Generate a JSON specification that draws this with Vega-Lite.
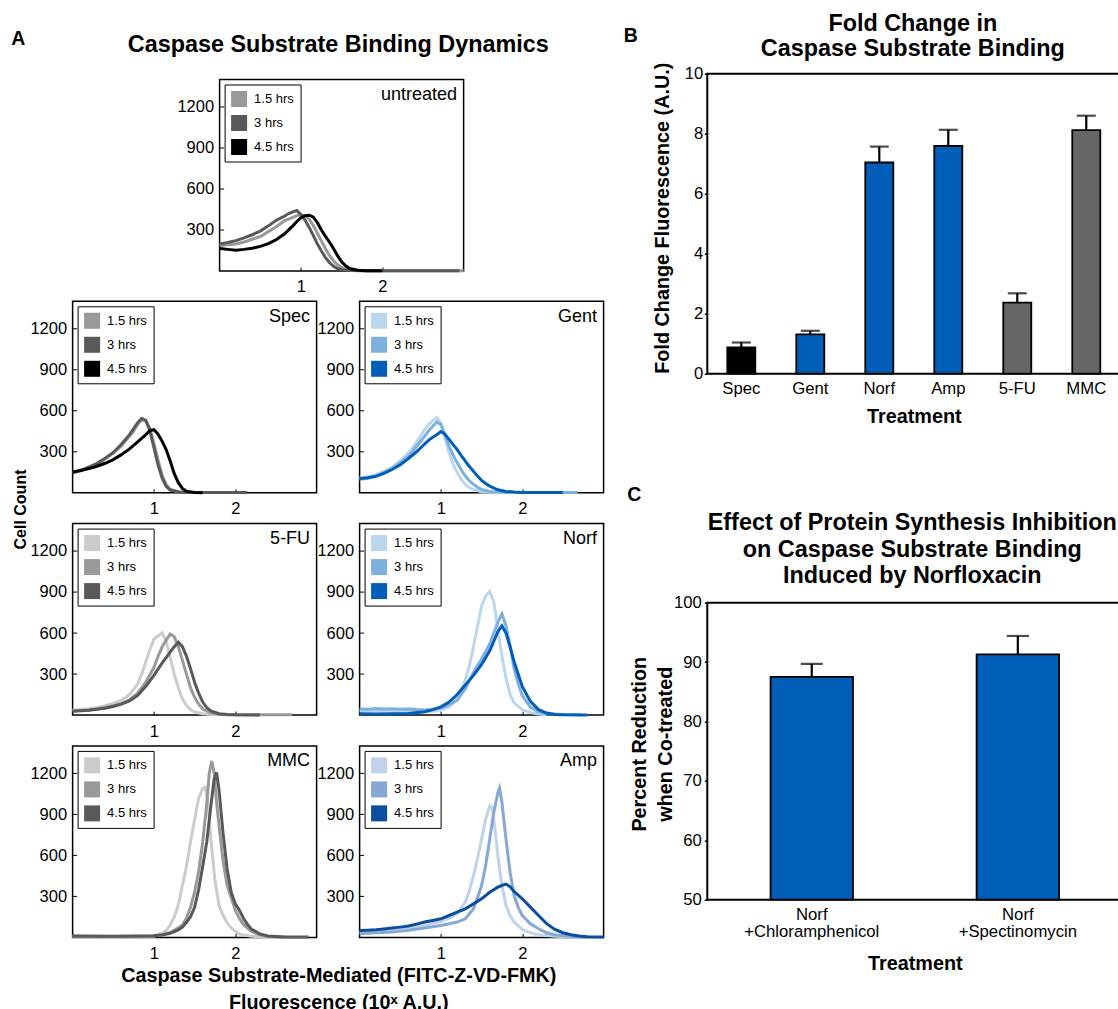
{
"$schema":"https://vega.github.io/schema/vega-lite/v6.json",
"autosize":{"type":"pad"},
"padding":{"left":10.6,"top":10.7,"right":0,"bottom":0},
"background":"white",
"config":{"font":"Liberation Sans","view":{"stroke":"black","strokeWidth":1.5},"axis":{"labelColor":"black","titleColor":"black","tickColor":"black"},"text":{"color":"black"},"legend":{"labelColor":"black"}},
"datasets":{
"U":[
{"t":"1.5 hrs","x":0,"y":185},{"t":"1.5 hrs","x":0.1,"y":192},{"t":"1.5 hrs","x":0.2,"y":198},{"t":"1.5 hrs","x":0.3,"y":212},{"t":"1.5 hrs","x":0.4,"y":232},{"t":"1.5 hrs","x":0.5,"y":252},{"t":"1.5 hrs","x":0.6,"y":288},{"t":"1.5 hrs","x":0.7,"y":325},{"t":"1.5 hrs","x":0.8,"y":368},{"t":"1.5 hrs","x":0.9,"y":392},{"t":"1.5 hrs","x":0.95,"y":405},{"t":"1.5 hrs","x":1,"y":412},{"t":"1.5 hrs","x":1.05,"y":402},{"t":"1.5 hrs","x":1.1,"y":380},{"t":"1.5 hrs","x":1.15,"y":335},{"t":"1.5 hrs","x":1.2,"y":280},{"t":"1.5 hrs","x":1.25,"y":222},{"t":"1.5 hrs","x":1.3,"y":165},{"t":"1.5 hrs","x":1.35,"y":115},{"t":"1.5 hrs","x":1.4,"y":75},{"t":"1.5 hrs","x":1.45,"y":45},{"t":"1.5 hrs","x":1.5,"y":25},{"t":"1.5 hrs","x":1.6,"y":9},{"t":"1.5 hrs","x":1.7,"y":4},{"t":"1.5 hrs","x":1.8,"y":2},{"t":"1.5 hrs","x":2.2,"y":2},{"t":"1.5 hrs","x":2.6,"y":2},{"t":"1.5 hrs","x":3,"y":2},
{"t":"3 hrs","x":0,"y":198},{"t":"3 hrs","x":0.1,"y":208},{"t":"3 hrs","x":0.2,"y":222},{"t":"3 hrs","x":0.3,"y":242},{"t":"3 hrs","x":0.4,"y":265},{"t":"3 hrs","x":0.5,"y":292},{"t":"3 hrs","x":0.6,"y":330},{"t":"3 hrs","x":0.7,"y":372},{"t":"3 hrs","x":0.8,"y":402},{"t":"3 hrs","x":0.85,"y":420},{"t":"3 hrs","x":0.9,"y":432},{"t":"3 hrs","x":0.95,"y":442},{"t":"3 hrs","x":1,"y":412},{"t":"3 hrs","x":1.05,"y":372},{"t":"3 hrs","x":1.1,"y":320},{"t":"3 hrs","x":1.15,"y":262},{"t":"3 hrs","x":1.2,"y":200},{"t":"3 hrs","x":1.25,"y":148},{"t":"3 hrs","x":1.3,"y":100},{"t":"3 hrs","x":1.35,"y":62},{"t":"3 hrs","x":1.4,"y":35},{"t":"3 hrs","x":1.45,"y":18},{"t":"3 hrs","x":1.5,"y":9},{"t":"3 hrs","x":1.6,"y":4},{"t":"3 hrs","x":1.8,"y":2},{"t":"3 hrs","x":2.2,"y":2},{"t":"3 hrs","x":2.6,"y":2},{"t":"3 hrs","x":2.95,"y":2},
{"t":"4.5 hrs","x":0,"y":165},{"t":"4.5 hrs","x":0.1,"y":158},{"t":"4.5 hrs","x":0.2,"y":152},{"t":"4.5 hrs","x":0.3,"y":158},{"t":"4.5 hrs","x":0.4,"y":166},{"t":"4.5 hrs","x":0.5,"y":180},{"t":"4.5 hrs","x":0.6,"y":200},{"t":"4.5 hrs","x":0.7,"y":230},{"t":"4.5 hrs","x":0.8,"y":272},{"t":"4.5 hrs","x":0.9,"y":330},{"t":"4.5 hrs","x":0.95,"y":362},{"t":"4.5 hrs","x":1,"y":390},{"t":"4.5 hrs","x":1.05,"y":405},{"t":"4.5 hrs","x":1.1,"y":408},{"t":"4.5 hrs","x":1.15,"y":395},{"t":"4.5 hrs","x":1.2,"y":355},{"t":"4.5 hrs","x":1.25,"y":302},{"t":"4.5 hrs","x":1.3,"y":255},{"t":"4.5 hrs","x":1.35,"y":212},{"t":"4.5 hrs","x":1.4,"y":165},{"t":"4.5 hrs","x":1.45,"y":112},{"t":"4.5 hrs","x":1.5,"y":68},{"t":"4.5 hrs","x":1.55,"y":38},{"t":"4.5 hrs","x":1.6,"y":18},{"t":"4.5 hrs","x":1.7,"y":6},{"t":"4.5 hrs","x":1.8,"y":2},{"t":"4.5 hrs","x":2,"y":1}
],
"S":[
{"t":"1.5 hrs","x":0,"y":150},{"t":"1.5 hrs","x":0.1,"y":160},{"t":"1.5 hrs","x":0.2,"y":185},{"t":"1.5 hrs","x":0.3,"y":210},{"t":"1.5 hrs","x":0.4,"y":248},{"t":"1.5 hrs","x":0.5,"y":290},{"t":"1.5 hrs","x":0.6,"y":345},{"t":"1.5 hrs","x":0.7,"y":415},{"t":"1.5 hrs","x":0.75,"y":450},{"t":"1.5 hrs","x":0.8,"y":500},{"t":"1.5 hrs","x":0.85,"y":535},{"t":"1.5 hrs","x":0.9,"y":525},{"t":"1.5 hrs","x":0.95,"y":470},{"t":"1.5 hrs","x":1,"y":360},{"t":"1.5 hrs","x":1.05,"y":240},{"t":"1.5 hrs","x":1.1,"y":130},{"t":"1.5 hrs","x":1.15,"y":60},{"t":"1.5 hrs","x":1.2,"y":25},{"t":"1.5 hrs","x":1.3,"y":8},{"t":"1.5 hrs","x":1.4,"y":3},{"t":"1.5 hrs","x":1.6,"y":2},{"t":"1.5 hrs","x":2.1,"y":2},
{"t":"3 hrs","x":0,"y":145},{"t":"3 hrs","x":0.1,"y":165},{"t":"3 hrs","x":0.2,"y":188},{"t":"3 hrs","x":0.3,"y":215},{"t":"3 hrs","x":0.4,"y":252},{"t":"3 hrs","x":0.5,"y":295},{"t":"3 hrs","x":0.6,"y":355},{"t":"3 hrs","x":0.7,"y":425},{"t":"3 hrs","x":0.75,"y":470},{"t":"3 hrs","x":0.8,"y":512},{"t":"3 hrs","x":0.85,"y":545},{"t":"3 hrs","x":0.9,"y":530},{"t":"3 hrs","x":0.95,"y":455},{"t":"3 hrs","x":1,"y":330},{"t":"3 hrs","x":1.05,"y":205},{"t":"3 hrs","x":1.1,"y":108},{"t":"3 hrs","x":1.15,"y":48},{"t":"3 hrs","x":1.2,"y":20},{"t":"3 hrs","x":1.3,"y":6},{"t":"3 hrs","x":1.4,"y":3},{"t":"3 hrs","x":1.6,"y":2},{"t":"3 hrs","x":2.15,"y":2},
{"t":"4.5 hrs","x":0,"y":153},{"t":"4.5 hrs","x":0.1,"y":163},{"t":"4.5 hrs","x":0.2,"y":177},{"t":"4.5 hrs","x":0.3,"y":194},{"t":"4.5 hrs","x":0.4,"y":216},{"t":"4.5 hrs","x":0.5,"y":243},{"t":"4.5 hrs","x":0.6,"y":279},{"t":"4.5 hrs","x":0.7,"y":321},{"t":"4.5 hrs","x":0.8,"y":372},{"t":"4.5 hrs","x":0.9,"y":425},{"t":"4.5 hrs","x":0.95,"y":454},{"t":"4.5 hrs","x":1,"y":462},{"t":"4.5 hrs","x":1.05,"y":428},{"t":"4.5 hrs","x":1.1,"y":378},{"t":"4.5 hrs","x":1.15,"y":316},{"t":"4.5 hrs","x":1.2,"y":232},{"t":"4.5 hrs","x":1.25,"y":140},{"t":"4.5 hrs","x":1.3,"y":74},{"t":"4.5 hrs","x":1.35,"y":32},{"t":"4.5 hrs","x":1.4,"y":12},{"t":"4.5 hrs","x":1.5,"y":3},{"t":"4.5 hrs","x":1.6,"y":1}
],
"G":[
{"t":"1.5 hrs","x":0,"y":108},{"t":"1.5 hrs","x":0.1,"y":118},{"t":"1.5 hrs","x":0.2,"y":132},{"t":"1.5 hrs","x":0.3,"y":158},{"t":"1.5 hrs","x":0.4,"y":188},{"t":"1.5 hrs","x":0.5,"y":235},{"t":"1.5 hrs","x":0.6,"y":292},{"t":"1.5 hrs","x":0.7,"y":370},{"t":"1.5 hrs","x":0.8,"y":462},{"t":"1.5 hrs","x":0.85,"y":500},{"t":"1.5 hrs","x":0.9,"y":528},{"t":"1.5 hrs","x":0.95,"y":552},{"t":"1.5 hrs","x":1,"y":512},{"t":"1.5 hrs","x":1.05,"y":400},{"t":"1.5 hrs","x":1.1,"y":292},{"t":"1.5 hrs","x":1.15,"y":210},{"t":"1.5 hrs","x":1.2,"y":146},{"t":"1.5 hrs","x":1.25,"y":98},{"t":"1.5 hrs","x":1.3,"y":61},{"t":"1.5 hrs","x":1.35,"y":38},{"t":"1.5 hrs","x":1.4,"y":24},{"t":"1.5 hrs","x":1.5,"y":8},{"t":"1.5 hrs","x":1.6,"y":4},{"t":"1.5 hrs","x":1.8,"y":2},{"t":"1.5 hrs","x":2.45,"y":2},
{"t":"3 hrs","x":0,"y":98},{"t":"3 hrs","x":0.1,"y":106},{"t":"3 hrs","x":0.2,"y":120},{"t":"3 hrs","x":0.3,"y":148},{"t":"3 hrs","x":0.4,"y":177},{"t":"3 hrs","x":0.5,"y":220},{"t":"3 hrs","x":0.6,"y":267},{"t":"3 hrs","x":0.7,"y":340},{"t":"3 hrs","x":0.8,"y":413},{"t":"3 hrs","x":0.85,"y":455},{"t":"3 hrs","x":0.9,"y":486},{"t":"3 hrs","x":0.95,"y":518},{"t":"3 hrs","x":1,"y":498},{"t":"3 hrs","x":1.05,"y":425},{"t":"3 hrs","x":1.1,"y":340},{"t":"3 hrs","x":1.15,"y":275},{"t":"3 hrs","x":1.2,"y":219},{"t":"3 hrs","x":1.25,"y":168},{"t":"3 hrs","x":1.3,"y":122},{"t":"3 hrs","x":1.35,"y":88},{"t":"3 hrs","x":1.4,"y":61},{"t":"3 hrs","x":1.45,"y":40},{"t":"3 hrs","x":1.5,"y":24},{"t":"3 hrs","x":1.6,"y":10},{"t":"3 hrs","x":1.7,"y":5},{"t":"3 hrs","x":1.8,"y":3},{"t":"3 hrs","x":2.68,"y":2},
{"t":"4.5 hrs","x":0,"y":104},{"t":"4.5 hrs","x":0.1,"y":110},{"t":"4.5 hrs","x":0.2,"y":121},{"t":"4.5 hrs","x":0.3,"y":142},{"t":"4.5 hrs","x":0.4,"y":170},{"t":"4.5 hrs","x":0.5,"y":205},{"t":"4.5 hrs","x":0.6,"y":250},{"t":"4.5 hrs","x":0.7,"y":300},{"t":"4.5 hrs","x":0.8,"y":357},{"t":"4.5 hrs","x":0.85,"y":385},{"t":"4.5 hrs","x":0.9,"y":406},{"t":"4.5 hrs","x":0.95,"y":425},{"t":"4.5 hrs","x":1,"y":448},{"t":"4.5 hrs","x":1.05,"y":428},{"t":"4.5 hrs","x":1.1,"y":390},{"t":"4.5 hrs","x":1.15,"y":352},{"t":"4.5 hrs","x":1.2,"y":316},{"t":"4.5 hrs","x":1.25,"y":272},{"t":"4.5 hrs","x":1.3,"y":231},{"t":"4.5 hrs","x":1.35,"y":192},{"t":"4.5 hrs","x":1.4,"y":158},{"t":"4.5 hrs","x":1.45,"y":122},{"t":"4.5 hrs","x":1.5,"y":90},{"t":"4.5 hrs","x":1.55,"y":68},{"t":"4.5 hrs","x":1.6,"y":49},{"t":"4.5 hrs","x":1.7,"y":22},{"t":"4.5 hrs","x":1.8,"y":10},{"t":"4.5 hrs","x":1.9,"y":5},{"t":"4.5 hrs","x":2,"y":3},{"t":"4.5 hrs","x":2.5,"y":2}
],
"F":[
{"t":"1.5 hrs","x":0,"y":38},{"t":"1.5 hrs","x":0.1,"y":41},{"t":"1.5 hrs","x":0.2,"y":46},{"t":"1.5 hrs","x":0.3,"y":55},{"t":"1.5 hrs","x":0.4,"y":68},{"t":"1.5 hrs","x":0.5,"y":86},{"t":"1.5 hrs","x":0.6,"y":110},{"t":"1.5 hrs","x":0.7,"y":150},{"t":"1.5 hrs","x":0.8,"y":228},{"t":"1.5 hrs","x":0.85,"y":300},{"t":"1.5 hrs","x":0.9,"y":390},{"t":"1.5 hrs","x":0.95,"y":478},{"t":"1.5 hrs","x":1,"y":555},{"t":"1.5 hrs","x":1.05,"y":578},{"t":"1.5 hrs","x":1.1,"y":602},{"t":"1.5 hrs","x":1.15,"y":540},{"t":"1.5 hrs","x":1.2,"y":420},{"t":"1.5 hrs","x":1.25,"y":300},{"t":"1.5 hrs","x":1.3,"y":198},{"t":"1.5 hrs","x":1.35,"y":120},{"t":"1.5 hrs","x":1.4,"y":70},{"t":"1.5 hrs","x":1.45,"y":40},{"t":"1.5 hrs","x":1.5,"y":22},{"t":"1.5 hrs","x":1.6,"y":10},{"t":"1.5 hrs","x":1.7,"y":5},{"t":"1.5 hrs","x":1.8,"y":3},
{"t":"3 hrs","x":0,"y":30},{"t":"3 hrs","x":0.1,"y":33},{"t":"3 hrs","x":0.2,"y":38},{"t":"3 hrs","x":0.3,"y":45},{"t":"3 hrs","x":0.4,"y":55},{"t":"3 hrs","x":0.5,"y":68},{"t":"3 hrs","x":0.6,"y":86},{"t":"3 hrs","x":0.7,"y":112},{"t":"3 hrs","x":0.8,"y":160},{"t":"3 hrs","x":0.9,"y":240},{"t":"3 hrs","x":1,"y":348},{"t":"3 hrs","x":1.05,"y":428},{"t":"3 hrs","x":1.1,"y":498},{"t":"3 hrs","x":1.15,"y":548},{"t":"3 hrs","x":1.2,"y":592},{"t":"3 hrs","x":1.25,"y":572},{"t":"3 hrs","x":1.3,"y":500},{"t":"3 hrs","x":1.35,"y":400},{"t":"3 hrs","x":1.4,"y":300},{"t":"3 hrs","x":1.45,"y":200},{"t":"3 hrs","x":1.5,"y":130},{"t":"3 hrs","x":1.55,"y":80},{"t":"3 hrs","x":1.6,"y":45},{"t":"3 hrs","x":1.7,"y":16},{"t":"3 hrs","x":1.8,"y":6},{"t":"3 hrs","x":1.9,"y":3},{"t":"3 hrs","x":2.7,"y":2},
{"t":"4.5 hrs","x":0,"y":28},{"t":"4.5 hrs","x":0.1,"y":31},{"t":"4.5 hrs","x":0.2,"y":35},{"t":"4.5 hrs","x":0.3,"y":42},{"t":"4.5 hrs","x":0.4,"y":50},{"t":"4.5 hrs","x":0.5,"y":63},{"t":"4.5 hrs","x":0.6,"y":80},{"t":"4.5 hrs","x":0.7,"y":104},{"t":"4.5 hrs","x":0.8,"y":145},{"t":"4.5 hrs","x":0.9,"y":210},{"t":"4.5 hrs","x":1,"y":290},{"t":"4.5 hrs","x":1.1,"y":380},{"t":"4.5 hrs","x":1.2,"y":460},{"t":"4.5 hrs","x":1.25,"y":500},{"t":"4.5 hrs","x":1.3,"y":532},{"t":"4.5 hrs","x":1.35,"y":500},{"t":"4.5 hrs","x":1.4,"y":430},{"t":"4.5 hrs","x":1.45,"y":340},{"t":"4.5 hrs","x":1.5,"y":240},{"t":"4.5 hrs","x":1.55,"y":160},{"t":"4.5 hrs","x":1.6,"y":95},{"t":"4.5 hrs","x":1.65,"y":55},{"t":"4.5 hrs","x":1.7,"y":30},{"t":"4.5 hrs","x":1.8,"y":10},{"t":"4.5 hrs","x":1.9,"y":4},{"t":"4.5 hrs","x":2,"y":2},{"t":"4.5 hrs","x":2.3,"y":1}
],
"N":[
{"t":"1.5 hrs","x":0,"y":30},{"t":"1.5 hrs","x":0.2,"y":31},{"t":"1.5 hrs","x":0.4,"y":28},{"t":"1.5 hrs","x":0.6,"y":26},{"t":"1.5 hrs","x":0.8,"y":25},{"t":"1.5 hrs","x":0.9,"y":28},{"t":"1.5 hrs","x":1,"y":38},{"t":"1.5 hrs","x":1.1,"y":60},{"t":"1.5 hrs","x":1.2,"y":120},{"t":"1.5 hrs","x":1.25,"y":180},{"t":"1.5 hrs","x":1.3,"y":260},{"t":"1.5 hrs","x":1.35,"y":360},{"t":"1.5 hrs","x":1.4,"y":500},{"t":"1.5 hrs","x":1.45,"y":650},{"t":"1.5 hrs","x":1.5,"y":800},{"t":"1.5 hrs","x":1.55,"y":870},{"t":"1.5 hrs","x":1.6,"y":902},{"t":"1.5 hrs","x":1.65,"y":830},{"t":"1.5 hrs","x":1.7,"y":620},{"t":"1.5 hrs","x":1.75,"y":430},{"t":"1.5 hrs","x":1.8,"y":270},{"t":"1.5 hrs","x":1.85,"y":150},{"t":"1.5 hrs","x":1.9,"y":90},{"t":"1.5 hrs","x":2,"y":40},{"t":"1.5 hrs","x":2.1,"y":18},{"t":"1.5 hrs","x":2.2,"y":8},{"t":"1.5 hrs","x":2.3,"y":3},
{"t":"3 hrs","x":0,"y":45},{"t":"3 hrs","x":0.1,"y":42},{"t":"3 hrs","x":0.2,"y":48},{"t":"3 hrs","x":0.3,"y":44},{"t":"3 hrs","x":0.4,"y":46},{"t":"3 hrs","x":0.5,"y":42},{"t":"3 hrs","x":0.6,"y":44},{"t":"3 hrs","x":0.7,"y":40},{"t":"3 hrs","x":0.8,"y":38},{"t":"3 hrs","x":0.9,"y":42},{"t":"3 hrs","x":1,"y":51},{"t":"3 hrs","x":1.1,"y":75},{"t":"3 hrs","x":1.2,"y":107},{"t":"3 hrs","x":1.3,"y":192},{"t":"3 hrs","x":1.4,"y":313},{"t":"3 hrs","x":1.5,"y":410},{"t":"3 hrs","x":1.6,"y":520},{"t":"3 hrs","x":1.65,"y":600},{"t":"3 hrs","x":1.7,"y":678},{"t":"3 hrs","x":1.75,"y":739},{"t":"3 hrs","x":1.8,"y":654},{"t":"3 hrs","x":1.85,"y":508},{"t":"3 hrs","x":1.9,"y":338},{"t":"3 hrs","x":1.95,"y":230},{"t":"3 hrs","x":2,"y":143},{"t":"3 hrs","x":2.1,"y":58},{"t":"3 hrs","x":2.2,"y":22},{"t":"3 hrs","x":2.3,"y":10},{"t":"3 hrs","x":2.5,"y":4},{"t":"3 hrs","x":2.72,"y":2},
{"t":"4.5 hrs","x":0,"y":10},{"t":"4.5 hrs","x":0.2,"y":8},{"t":"4.5 hrs","x":0.4,"y":9},{"t":"4.5 hrs","x":0.6,"y":12},{"t":"4.5 hrs","x":0.8,"y":25},{"t":"4.5 hrs","x":0.9,"y":40},{"t":"4.5 hrs","x":1,"y":60},{"t":"4.5 hrs","x":1.1,"y":95},{"t":"4.5 hrs","x":1.2,"y":150},{"t":"4.5 hrs","x":1.3,"y":220},{"t":"4.5 hrs","x":1.4,"y":290},{"t":"4.5 hrs","x":1.5,"y":370},{"t":"4.5 hrs","x":1.6,"y":470},{"t":"4.5 hrs","x":1.65,"y":540},{"t":"4.5 hrs","x":1.7,"y":610},{"t":"4.5 hrs","x":1.75,"y":652},{"t":"4.5 hrs","x":1.8,"y":600},{"t":"4.5 hrs","x":1.85,"y":500},{"t":"4.5 hrs","x":1.9,"y":390},{"t":"4.5 hrs","x":2,"y":210},{"t":"4.5 hrs","x":2.1,"y":100},{"t":"4.5 hrs","x":2.2,"y":40},{"t":"4.5 hrs","x":2.3,"y":15},{"t":"4.5 hrs","x":2.4,"y":5},{"t":"4.5 hrs","x":2.5,"y":2},{"t":"4.5 hrs","x":2.8,"y":1}
],
"M":[
{"t":"1.5 hrs","x":0,"y":8},{"t":"1.5 hrs","x":0.5,"y":6},{"t":"1.5 hrs","x":1,"y":10},{"t":"1.5 hrs","x":1.1,"y":30},{"t":"1.5 hrs","x":1.15,"y":51},{"t":"1.5 hrs","x":1.2,"y":90},{"t":"1.5 hrs","x":1.25,"y":150},{"t":"1.5 hrs","x":1.3,"y":240},{"t":"1.5 hrs","x":1.35,"y":380},{"t":"1.5 hrs","x":1.4,"y":520},{"t":"1.5 hrs","x":1.45,"y":700},{"t":"1.5 hrs","x":1.5,"y":860},{"t":"1.5 hrs","x":1.55,"y":1020},{"t":"1.5 hrs","x":1.6,"y":1090},{"t":"1.5 hrs","x":1.63,"y":1096},{"t":"1.5 hrs","x":1.66,"y":1010},{"t":"1.5 hrs","x":1.7,"y":720},{"t":"1.5 hrs","x":1.75,"y":420},{"t":"1.5 hrs","x":1.8,"y":235},{"t":"1.5 hrs","x":1.85,"y":160},{"t":"1.5 hrs","x":1.9,"y":108},{"t":"1.5 hrs","x":1.95,"y":70},{"t":"1.5 hrs","x":2,"y":45},{"t":"1.5 hrs","x":2.05,"y":26},{"t":"1.5 hrs","x":2.1,"y":17},{"t":"1.5 hrs","x":2.2,"y":8},{"t":"1.5 hrs","x":2.4,"y":3},{"t":"1.5 hrs","x":2.6,"y":2},
{"t":"3 hrs","x":0,"y":8},{"t":"3 hrs","x":0.5,"y":7},{"t":"3 hrs","x":1,"y":9},{"t":"3 hrs","x":1.1,"y":20},{"t":"3 hrs","x":1.2,"y":35},{"t":"3 hrs","x":1.3,"y":70},{"t":"3 hrs","x":1.35,"y":90},{"t":"3 hrs","x":1.4,"y":140},{"t":"3 hrs","x":1.45,"y":220},{"t":"3 hrs","x":1.5,"y":330},{"t":"3 hrs","x":1.55,"y":480},{"t":"3 hrs","x":1.6,"y":700},{"t":"3 hrs","x":1.65,"y":980},{"t":"3 hrs","x":1.68,"y":1200},{"t":"3 hrs","x":1.71,"y":1290},{"t":"3 hrs","x":1.74,"y":1205},{"t":"3 hrs","x":1.77,"y":990},{"t":"3 hrs","x":1.8,"y":820},{"t":"3 hrs","x":1.85,"y":560},{"t":"3 hrs","x":1.9,"y":380},{"t":"3 hrs","x":1.95,"y":290},{"t":"3 hrs","x":2,"y":200},{"t":"3 hrs","x":2.05,"y":140},{"t":"3 hrs","x":2.1,"y":95},{"t":"3 hrs","x":2.15,"y":68},{"t":"3 hrs","x":2.2,"y":45},{"t":"3 hrs","x":2.3,"y":18},{"t":"3 hrs","x":2.4,"y":8},{"t":"3 hrs","x":2.6,"y":3},
{"t":"4.5 hrs","x":0,"y":10},{"t":"4.5 hrs","x":0.5,"y":8},{"t":"4.5 hrs","x":1,"y":12},{"t":"4.5 hrs","x":1.1,"y":18},{"t":"4.5 hrs","x":1.2,"y":30},{"t":"4.5 hrs","x":1.3,"y":55},{"t":"4.5 hrs","x":1.35,"y":75},{"t":"4.5 hrs","x":1.4,"y":110},{"t":"4.5 hrs","x":1.45,"y":150},{"t":"4.5 hrs","x":1.5,"y":220},{"t":"4.5 hrs","x":1.55,"y":350},{"t":"4.5 hrs","x":1.6,"y":520},{"t":"4.5 hrs","x":1.65,"y":700},{"t":"4.5 hrs","x":1.7,"y":960},{"t":"4.5 hrs","x":1.74,"y":1157},{"t":"4.5 hrs","x":1.77,"y":1205},{"t":"4.5 hrs","x":1.8,"y":1080},{"t":"4.5 hrs","x":1.85,"y":760},{"t":"4.5 hrs","x":1.9,"y":500},{"t":"4.5 hrs","x":1.95,"y":330},{"t":"4.5 hrs","x":2,"y":245},{"t":"4.5 hrs","x":2.05,"y":200},{"t":"4.5 hrs","x":2.1,"y":140},{"t":"4.5 hrs","x":2.15,"y":95},{"t":"4.5 hrs","x":2.2,"y":60},{"t":"4.5 hrs","x":2.3,"y":26},{"t":"4.5 hrs","x":2.4,"y":10},{"t":"4.5 hrs","x":2.6,"y":3},{"t":"4.5 hrs","x":2.9,"y":2}
],
"A":[
{"t":"1.5 hrs","x":0,"y":40},{"t":"1.5 hrs","x":0.2,"y":45},{"t":"1.5 hrs","x":0.4,"y":51},{"t":"1.5 hrs","x":0.6,"y":68},{"t":"1.5 hrs","x":0.8,"y":87},{"t":"1.5 hrs","x":1,"y":117},{"t":"1.5 hrs","x":1.1,"y":140},{"t":"1.5 hrs","x":1.2,"y":173},{"t":"1.5 hrs","x":1.3,"y":258},{"t":"1.5 hrs","x":1.35,"y":340},{"t":"1.5 hrs","x":1.4,"y":452},{"t":"1.5 hrs","x":1.45,"y":580},{"t":"1.5 hrs","x":1.5,"y":719},{"t":"1.5 hrs","x":1.55,"y":865},{"t":"1.5 hrs","x":1.6,"y":962},{"t":"1.5 hrs","x":1.63,"y":950},{"t":"1.5 hrs","x":1.66,"y":816},{"t":"1.5 hrs","x":1.7,"y":598},{"t":"1.5 hrs","x":1.75,"y":379},{"t":"1.5 hrs","x":1.8,"y":233},{"t":"1.5 hrs","x":1.85,"y":160},{"t":"1.5 hrs","x":1.9,"y":112},{"t":"1.5 hrs","x":2,"y":58},{"t":"1.5 hrs","x":2.1,"y":34},{"t":"1.5 hrs","x":2.2,"y":19},{"t":"1.5 hrs","x":2.4,"y":8},{"t":"1.5 hrs","x":2.6,"y":3},
{"t":"3 hrs","x":0,"y":27},{"t":"3 hrs","x":0.2,"y":33},{"t":"3 hrs","x":0.4,"y":39},{"t":"3 hrs","x":0.6,"y":52},{"t":"3 hrs","x":0.8,"y":68},{"t":"3 hrs","x":1,"y":87},{"t":"3 hrs","x":1.1,"y":100},{"t":"3 hrs","x":1.2,"y":112},{"t":"3 hrs","x":1.3,"y":136},{"t":"3 hrs","x":1.4,"y":209},{"t":"3 hrs","x":1.45,"y":290},{"t":"3 hrs","x":1.5,"y":379},{"t":"3 hrs","x":1.55,"y":525},{"t":"3 hrs","x":1.6,"y":719},{"t":"3 hrs","x":1.65,"y":914},{"t":"3 hrs","x":1.7,"y":1059},{"t":"3 hrs","x":1.72,"y":1092},{"t":"3 hrs","x":1.75,"y":987},{"t":"3 hrs","x":1.8,"y":719},{"t":"3 hrs","x":1.85,"y":476},{"t":"3 hrs","x":1.9,"y":306},{"t":"3 hrs","x":1.95,"y":220},{"t":"3 hrs","x":2,"y":160},{"t":"3 hrs","x":2.1,"y":100},{"t":"3 hrs","x":2.2,"y":63},{"t":"3 hrs","x":2.3,"y":34},{"t":"3 hrs","x":2.4,"y":19},{"t":"3 hrs","x":2.6,"y":7},{"t":"3 hrs","x":2.8,"y":3},
{"t":"4.5 hrs","x":0,"y":51},{"t":"4.5 hrs","x":0.1,"y":53},{"t":"4.5 hrs","x":0.2,"y":56},{"t":"4.5 hrs","x":0.3,"y":62},{"t":"4.5 hrs","x":0.4,"y":68},{"t":"4.5 hrs","x":0.5,"y":75},{"t":"4.5 hrs","x":0.6,"y":83},{"t":"4.5 hrs","x":0.7,"y":97},{"t":"4.5 hrs","x":0.8,"y":112},{"t":"4.5 hrs","x":0.9,"y":124},{"t":"4.5 hrs","x":1,"y":136},{"t":"4.5 hrs","x":1.1,"y":160},{"t":"4.5 hrs","x":1.2,"y":185},{"t":"4.5 hrs","x":1.3,"y":209},{"t":"4.5 hrs","x":1.4,"y":245},{"t":"4.5 hrs","x":1.5,"y":282},{"t":"4.5 hrs","x":1.6,"y":330},{"t":"4.5 hrs","x":1.7,"y":367},{"t":"4.5 hrs","x":1.75,"y":380},{"t":"4.5 hrs","x":1.8,"y":390},{"t":"4.5 hrs","x":1.85,"y":370},{"t":"4.5 hrs","x":1.9,"y":335},{"t":"4.5 hrs","x":2,"y":282},{"t":"4.5 hrs","x":2.1,"y":221},{"t":"4.5 hrs","x":2.2,"y":160},{"t":"4.5 hrs","x":2.3,"y":100},{"t":"4.5 hrs","x":2.4,"y":58},{"t":"4.5 hrs","x":2.5,"y":34},{"t":"4.5 hrs","x":2.6,"y":19},{"t":"4.5 hrs","x":2.7,"y":10},{"t":"4.5 hrs","x":2.8,"y":5},{"t":"4.5 hrs","x":3,"y":3}
]
},
"resolve":{"scale":{"color":"independent"}},
"spacing":11.7,
"hconcat":[
{
"resolve":{"scale":{"color":"independent"}},
"spacing":3.8,
"vconcat":[
{
"width":531,"height":1,
"view":{"stroke":null},
"layer":[
{"data":{"values":[{"n":"A"}]},"mark":{"type":"text","align":"center","baseline":"middle","fontSize":19.5,"fontWeight":"bold"},"encoding":{"x":{"datum":-54.3,"type":"quantitative","scale":{"domain":[0,531],"nice":false,"zero":false},"axis":null},"y":{"datum":35.6,"type":"quantitative","scale":{"domain":[0,1],"nice":false,"zero":false},"axis":null},"text":{"field":"n"}}},
{"data":{"values":[{"n":"Caspase Substrate Binding Dynamics"}]},"mark":{"type":"text","align":"center","baseline":"alphabetic","fontSize":23.4,"fontWeight":"bold"},"encoding":{"x":{"datum":265.7,"type":"quantitative"},"y":{"datum":22.9,"type":"quantitative"},"text":{"field":"n"}}}
]
},
{
"bounds":"flush",
"spacing":0,
"resolve":{"scale":{"color":"independent"}},
"hconcat":[
{"width":147,"height":1,"view":{"stroke":null},"data":{"values":[]},"mark":"point"},
{
"width":244,"height":191.5,
"layer":[
{"data":{"name":"U"},"mark":{"type":"line","strokeWidth":3},
"encoding":{
"x":{"field":"x","type":"quantitative","scale":{"domain":[0,3],"nice":false},"axis":{"values":[1,2],"format":"d","title":null,"grid":false,"domain":false,"tickSize":-4,"labelFontSize":16.5,"labelPadding":12,"labelFlush":false}},
"y":{"field":"y","type":"quantitative","scale":{"domain":[0,1400],"nice":false},"axis":{"values":[300,600,900,1200],"format":"d","title":null,"grid":false,"domain":false,"tickSize":-4,"labelFontSize":16.5,"labelPadding":10}},
"color":{"field":"t","type":"nominal","scale":{"domain":["1.5 hrs","3 hrs","4.5 hrs"],"range":["#999999","#595959","#000000"]},"legend":{"title":null,"orient":"top-left","offset":5,"padding":6.5,"strokeColor":"black","fillColor":"white","symbolType":"square","symbolSize":256,"symbolStrokeWidth":0,"symbolOpacity":1,"labelFontSize":13,"labelOffset":7,"rowPadding":8,"encode":{"symbols":{"update":{"fill":{"signal":"datum.value==='1.5 hrs'?'#999999':datum.value==='3 hrs'?'#595959':'#000000'"},"stroke":{"value":"transparent"},"strokeWidth":{"value":0}}}}}}}},
{"data":{"values":[{"n":"untreated"}]},"mark":{"type":"text","align":"right","baseline":"alphabetic","fontSize":18},"encoding":{"x":{"datum":2.92},"y":{"datum":1250},"text":{"field":"n"}}}
]
}
]
},
{
"concat":[
{
"width":244,"height":191.5,
"layer":[
{"data":{"name":"S"},"mark":{"type":"line","strokeWidth":3},
"encoding":{
"x":{"field":"x","type":"quantitative","scale":{"domain":[0,3],"nice":false},"axis":{"values":[1,2],"format":"d","title":null,"grid":false,"domain":false,"tickSize":-4,"labelFontSize":16.5,"labelPadding":12,"labelFlush":false}},
"y":{"field":"y","type":"quantitative","scale":{"domain":[0,1400],"nice":false},"axis":{"values":[300,600,900,1200],"format":"d","title":"Cell Count","titleFontSize":16,"titleFontWeight":"bold","titleAngle":270,"titleX":-52,"titleY":207.7,"titleBaseline":"middle","titleAlign":"center","grid":false,"domain":false,"tickSize":-4,"labelFontSize":16.5,"labelPadding":10}},
"color":{"field":"t","type":"nominal","scale":{"domain":["1.5 hrs","3 hrs","4.5 hrs"],"range":["#999999","#595959","#000000"]},"legend":{"title":null,"orient":"top-left","offset":5,"padding":6.5,"strokeColor":"black","fillColor":"white","symbolType":"square","symbolSize":256,"symbolStrokeWidth":0,"symbolOpacity":1,"labelFontSize":13,"labelOffset":7,"rowPadding":8,"encode":{"symbols":{"update":{"fill":{"signal":"datum.value==='1.5 hrs'?'#999999':datum.value==='3 hrs'?'#595959':'#000000'"},"stroke":{"value":"transparent"},"strokeWidth":{"value":0}}}}}}}},
{"data":{"values":[{"n":"Spec"}]},"mark":{"type":"text","align":"right","baseline":"alphabetic","fontSize":18},"encoding":{"x":{"datum":2.92},"y":{"datum":1250},"text":{"field":"n"}}}
]
},
{
"width":244,"height":191.5,
"layer":[
{"data":{"name":"G"},"mark":{"type":"line","strokeWidth":3},
"encoding":{
"x":{"field":"x","type":"quantitative","scale":{"domain":[0,3],"nice":false},"axis":{"values":[1,2],"format":"d","title":null,"grid":false,"domain":false,"tickSize":-4,"labelFontSize":16.5,"labelPadding":12,"labelFlush":false}},
"y":{"field":"y","type":"quantitative","scale":{"domain":[0,1400],"nice":false},"axis":{"values":[300,600,900,1200],"format":"d","title":null,"grid":false,"domain":false,"tickSize":-4,"labelFontSize":16.5,"labelPadding":10}},
"color":{"field":"t","type":"nominal","scale":{"domain":["1.5 hrs","3 hrs","4.5 hrs"],"range":["#bcd6ee","#7eb0de","#005eb8"]},"legend":{"title":null,"orient":"top-left","offset":5,"padding":6.5,"strokeColor":"black","fillColor":"white","symbolType":"square","symbolSize":256,"symbolStrokeWidth":0,"symbolOpacity":1,"labelFontSize":13,"labelOffset":7,"rowPadding":8,"encode":{"symbols":{"update":{"fill":{"signal":"datum.value==='1.5 hrs'?'#bcd6ee':datum.value==='3 hrs'?'#7eb0de':'#005eb8'"},"stroke":{"value":"transparent"},"strokeWidth":{"value":0}}}}}}}},
{"data":{"values":[{"n":"Gent"}]},"mark":{"type":"text","align":"right","baseline":"alphabetic","fontSize":18},"encoding":{"x":{"datum":2.92},"y":{"datum":1250},"text":{"field":"n"}}}
]
},
{
"width":244,"height":191.5,
"layer":[
{"data":{"name":"F"},"mark":{"type":"line","strokeWidth":3},
"encoding":{
"x":{"field":"x","type":"quantitative","scale":{"domain":[0,3],"nice":false},"axis":{"values":[1,2],"format":"d","title":null,"grid":false,"domain":false,"tickSize":-4,"labelFontSize":16.5,"labelPadding":12,"labelFlush":false}},
"y":{"field":"y","type":"quantitative","scale":{"domain":[0,1400],"nice":false},"axis":{"values":[300,600,900,1200],"format":"d","title":null,"grid":false,"domain":false,"tickSize":-4,"labelFontSize":16.5,"labelPadding":10}},
"color":{"field":"t","type":"nominal","scale":{"domain":["1.5 hrs","3 hrs","4.5 hrs"],"range":["#cccccc","#999999","#595959"]},"legend":{"title":null,"orient":"top-left","offset":5,"padding":6.5,"strokeColor":"black","fillColor":"white","symbolType":"square","symbolSize":256,"symbolStrokeWidth":0,"symbolOpacity":1,"labelFontSize":13,"labelOffset":7,"rowPadding":8,"encode":{"symbols":{"update":{"fill":{"signal":"datum.value==='1.5 hrs'?'#cccccc':datum.value==='3 hrs'?'#999999':'#595959'"},"stroke":{"value":"transparent"},"strokeWidth":{"value":0}}}}}}}},
{"data":{"values":[{"n":"5-FU"}]},"mark":{"type":"text","align":"right","baseline":"alphabetic","fontSize":18},"encoding":{"x":{"datum":2.92},"y":{"datum":1250},"text":{"field":"n"}}}
]
},
{
"width":244,"height":191.5,
"layer":[
{"data":{"name":"N"},"mark":{"type":"line","strokeWidth":3},
"encoding":{
"x":{"field":"x","type":"quantitative","scale":{"domain":[0,3],"nice":false},"axis":{"values":[1,2],"format":"d","title":null,"grid":false,"domain":false,"tickSize":-4,"labelFontSize":16.5,"labelPadding":12,"labelFlush":false}},
"y":{"field":"y","type":"quantitative","scale":{"domain":[0,1400],"nice":false},"axis":{"values":[300,600,900,1200],"format":"d","title":null,"grid":false,"domain":false,"tickSize":-4,"labelFontSize":16.5,"labelPadding":10}},
"color":{"field":"t","type":"nominal","scale":{"domain":["1.5 hrs","3 hrs","4.5 hrs"],"range":["#bcd6ee","#7eb0de","#005eb8"]},"legend":{"title":null,"orient":"top-left","offset":5,"padding":6.5,"strokeColor":"black","fillColor":"white","symbolType":"square","symbolSize":256,"symbolStrokeWidth":0,"symbolOpacity":1,"labelFontSize":13,"labelOffset":7,"rowPadding":8,"encode":{"symbols":{"update":{"fill":{"signal":"datum.value==='1.5 hrs'?'#bcd6ee':datum.value==='3 hrs'?'#7eb0de':'#005eb8'"},"stroke":{"value":"transparent"},"strokeWidth":{"value":0}}}}}}}},
{"data":{"values":[{"n":"Norf"}]},"mark":{"type":"text","align":"right","baseline":"alphabetic","fontSize":18},"encoding":{"x":{"datum":2.92},"y":{"datum":1250},"text":{"field":"n"}}}
]
},
{
"width":244,"height":191.5,
"layer":[
{"data":{"name":"M"},"mark":{"type":"line","strokeWidth":3},
"encoding":{
"x":{"field":"x","type":"quantitative","scale":{"domain":[0,3],"nice":false},"axis":{"values":[1,2],"format":"d","title":["Caspase Substrate-Mediated (FITC-Z-VD-FMK)","Fluorescence (10ˣ A.U.)"],"titleFontSize":19.8,"titleFontWeight":"bold","titleX":265.7,"titleY":44.6,"titleBaseline":"alphabetic","titleAlign":"center","titleLineHeight":26.7,"grid":false,"domain":false,"tickSize":-4,"labelFontSize":16.5,"labelPadding":12,"labelFlush":false}},
"y":{"field":"y","type":"quantitative","scale":{"domain":[0,1400],"nice":false},"axis":{"values":[300,600,900,1200],"format":"d","title":null,"grid":false,"domain":false,"tickSize":-4,"labelFontSize":16.5,"labelPadding":10}},
"color":{"field":"t","type":"nominal","scale":{"domain":["1.5 hrs","3 hrs","4.5 hrs"],"range":["#cccccc","#999999","#595959"]},"legend":{"title":null,"orient":"top-left","offset":5,"padding":6.5,"strokeColor":"black","fillColor":"white","symbolType":"square","symbolSize":256,"symbolStrokeWidth":0,"symbolOpacity":1,"labelFontSize":13,"labelOffset":7,"rowPadding":8,"encode":{"symbols":{"update":{"fill":{"signal":"datum.value==='1.5 hrs'?'#cccccc':datum.value==='3 hrs'?'#999999':'#595959'"},"stroke":{"value":"transparent"},"strokeWidth":{"value":0}}}}}}}},
{"data":{"values":[{"n":"MMC"}]},"mark":{"type":"text","align":"right","baseline":"alphabetic","fontSize":18},"encoding":{"x":{"datum":2.92},"y":{"datum":1250},"text":{"field":"n"}}}
]
},
{
"width":244,"height":191.5,
"layer":[
{"data":{"name":"A"},"mark":{"type":"line","strokeWidth":3},
"encoding":{
"x":{"field":"x","type":"quantitative","scale":{"domain":[0,3],"nice":false},"axis":{"values":[1,2],"format":"d","title":null,"grid":false,"domain":false,"tickSize":-4,"labelFontSize":16.5,"labelPadding":12,"labelFlush":false}},
"y":{"field":"y","type":"quantitative","scale":{"domain":[0,1400],"nice":false},"axis":{"values":[300,600,900,1200],"format":"d","title":null,"grid":false,"domain":false,"tickSize":-4,"labelFontSize":16.5,"labelPadding":10}},
"color":{"field":"t","type":"nominal","scale":{"domain":["1.5 hrs","3 hrs","4.5 hrs"],"range":["#c0d3ea","#85a8d5","#0b4d9f"]},"legend":{"title":null,"orient":"top-left","offset":5,"padding":6.5,"strokeColor":"black","fillColor":"white","symbolType":"square","symbolSize":256,"symbolStrokeWidth":0,"symbolOpacity":1,"labelFontSize":13,"labelOffset":7,"rowPadding":8,"encode":{"symbols":{"update":{"fill":{"signal":"datum.value==='1.5 hrs'?'#c0d3ea':datum.value==='3 hrs'?'#85a8d5':'#0b4d9f'"},"stroke":{"value":"transparent"},"strokeWidth":{"value":0}}}}}}}},
{"data":{"values":[{"n":"Amp"}]},"mark":{"type":"text","align":"right","baseline":"alphabetic","fontSize":18},"encoding":{"x":{"datum":2.92},"y":{"datum":1250},"text":{"field":"n"}}}
]
}
],
"columns":2,
"bounds":"flush",
"spacing":{"row":30.3,"column":43},
"resolve":{"scale":{"color":"independent"}}
}
]
},
{
"bounds":"flush",
"spacing":229,
"vconcat":[
{
"width":413,"height":300,
"view":{"stroke":"black","strokeWidth":2},
"data":{"values":[
{"t":"Spec","v":0.88,"u":1.04,"g":"k"},
{"t":"Gent","v":1.31,"u":1.43,"g":"b"},
{"t":"Norf","v":7.04,"u":7.57,"g":"b"},
{"t":"Amp","v":7.59,"u":8.13,"g":"b"},
{"t":"5-FU","v":2.37,"u":2.68,"g":"g"},
{"t":"MMC","v":8.12,"u":8.6,"g":"g"}]},
"layer":[
{"mark":{"type":"bar","stroke":"black","strokeWidth":1.8},
"encoding":{
"x":{"field":"t","type":"nominal","scale":{"domain":["Spec","Gent","Norf","Amp","5-FU","MMC"],"paddingInner":0.594,"paddingOuter":0.29},"axis":{"title":"Treatment","labelAngle":0,"ticks":false,"domain":false,"labelFontSize":16.7,"labelPadding":7,"titleFontSize":19.8,"titleFontWeight":"bold","titlePadding":9}},
"y":{"field":"v","type":"quantitative","scale":{"domain":[0,10],"nice":false},"axis":{"values":[0,2,4,6,8,10],"title":"Fold Change Fluorescence (A.U.)","titleFontSize":19.8,"titleFontWeight":"bold","titlePadding":12,"titleY":144,"labelFontSize":16.7,"labelPadding":1.5,"tickSize":3,"tickWidth":1.5,"domain":false,"grid":false}},
"color":{"field":"g","type":"nominal","scale":{"domain":["k","b","g"],"range":["#000000","#005eb8","#666666"]},"legend":null}}},
{"mark":{"type":"rule","strokeWidth":2.2,"color":"black"},"encoding":{"x":{"field":"t","type":"nominal"},"y":{"field":"v","type":"quantitative"},"y2":{"field":"u"}}},
{"mark":{"type":"tick","thickness":2.2,"size":19,"color":"black"},"encoding":{"x":{"field":"t","type":"nominal"},"y":{"field":"u","type":"quantitative"}}},
{"data":{"values":[{"n":"B"}]},"mark":{"type":"text","fontSize":19.5,"fontWeight":"bold","baseline":"middle","align":"center","dx":-110.5},"encoding":{"x":{"datum":"Spec"},"y":{"datum":11.26},"text":{"field":"n"}}},
{"data":{"values":[{"n":["Fold Change in","Caspase Substrate Binding"]}]},"mark":{"type":"text","fontSize":23.4,"fontWeight":"bold","baseline":"alphabetic","align":"center","lineHeight":24.5,"dx":33.5},"encoding":{"x":{"datum":"Norf"},"y":{"datum":11.42},"text":{"field":"n"}}}
]
},
{
"width":415,"height":297,
"view":{"stroke":"black","strokeWidth":2},
"data":{"values":[
{"t":"Norf +Chloramphenicol","v":87.5,"u":89.7},
{"t":"Norf +Spectinomycin","v":91.3,"u":94.4}]},
"layer":[
{"mark":{"type":"bar","fill":"#005eb8","stroke":"black","strokeWidth":1.8},
"encoding":{
"x":{"field":"t","type":"nominal","scale":{"domain":["Norf +Chloramphenicol","Norf +Spectinomycin"],"paddingInner":0.6,"paddingOuter":0.307},"axis":{"title":"Treatment","labelAngle":0,"ticks":false,"domain":false,"labelFontSize":16.7,"labelPadding":7,"labelLineHeight":16.7,"labelExpr":"split(datum.label, ' ')","titleFontSize":19.8,"titleFontWeight":"bold","titlePadding":13}},
"y":{"field":"v","type":"quantitative","scale":{"domain":[50,100],"nice":false},"axis":{"values":[50,60,70,80,90,100],"title":["Percent Reduction","when Co-treated"],"titleFontSize":19.8,"titleFontWeight":"bold","titleLineHeight":26,"titlePadding":-2,"titleY":141,"labelFontSize":16.7,"labelPadding":3,"tickSize":3,"tickWidth":1.5,"domain":false,"grid":false}},
"y2":{"datum":50}}},
{"mark":{"type":"rule","strokeWidth":2.2,"color":"black"},"encoding":{"x":{"field":"t","type":"nominal"},"y":{"field":"v","type":"quantitative"},"y2":{"field":"u"}}},
{"mark":{"type":"tick","thickness":2.2,"size":22,"color":"black"},"encoding":{"x":{"field":"t","type":"nominal"},"y":{"field":"u","type":"quantitative"}}},
{"data":{"values":[{"n":"C"}]},"mark":{"type":"text","fontSize":19.5,"fontWeight":"bold","baseline":"middle","align":"center","dx":-177.5},"encoding":{"x":{"datum":"Norf +Chloramphenicol"},"y":{"datum":118.05},"text":{"field":"n"}}},
{"data":{"values":[{"n":["Effect of Protein Synthesis Inhibition","on Caspase Substrate Binding","Induced by Norfloxacin"]}]},"mark":{"type":"text","fontSize":23.4,"fontWeight":"bold","baseline":"alphabetic","align":"center","lineHeight":26.4,"dx":100.5},"encoding":{"x":{"datum":"Norf +Chloramphenicol"},"y":{"datum":112.19},"text":{"field":"n"}}}
]
}
]
}
]
}
